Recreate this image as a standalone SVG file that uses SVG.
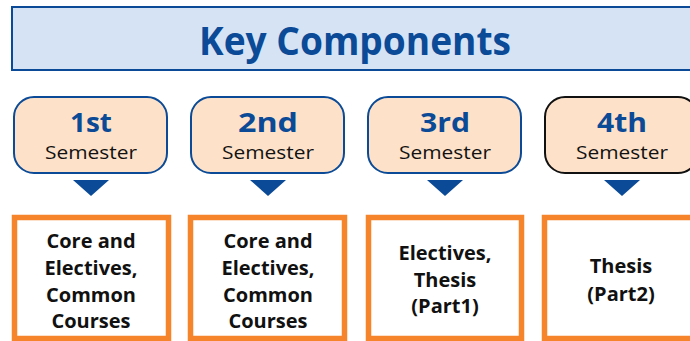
<svg xmlns="http://www.w3.org/2000/svg" width="690" height="341" viewBox="0 0 690 341">
<style>
.title{font-family:"Open Sans","Liberation Sans",sans-serif;font-weight:bold;font-size:40px;fill:#0b4a96}
.sem{fill:#fde2c9;stroke:#0b4a96;stroke-width:2}
.num{font-family:"Open Sans","Liberation Sans",sans-serif;font-weight:bold;font-size:27px;fill:#0b4a96;text-anchor:middle}
.lbl{font-family:"Open Sans","Liberation Sans",sans-serif;font-size:19px;fill:#111;text-anchor:middle}
.box{fill:#fff;stroke:#f5842a;stroke-width:5.5}
.txt{font-family:"Open Sans","Liberation Sans",sans-serif;font-weight:bold;font-size:20px;fill:#111;text-anchor:middle}
.arr{fill:#0b4a96}
</style>
<rect width="690" height="341" fill="#fff"/>
<g id="title">
<rect x="12" y="7" width="690" height="63" fill="#d5e3f5" stroke="#0b4a96" stroke-width="2"/>
<text class="title" x="355" y="55" text-anchor="middle" textLength="312" lengthAdjust="spacingAndGlyphs">Key Components</text>
</g>
<g id="sem1">
<rect class="sem" x="14" y="97" width="153" height="76" rx="20"/>
<text class="num" x="91" y="132" textLength="42" lengthAdjust="spacingAndGlyphs">1st</text>
<text class="lbl" x="91" y="159" textLength="92" lengthAdjust="spacingAndGlyphs">Semester</text>
</g>
<g id="sem2">
<rect class="sem" x="191" y="97" width="153" height="76" rx="20"/>
<text class="num" x="268" y="132" textLength="60" lengthAdjust="spacingAndGlyphs">2nd</text>
<text class="lbl" x="268" y="159" textLength="92" lengthAdjust="spacingAndGlyphs">Semester</text>
</g>
<g id="sem3">
<rect class="sem" x="368" y="97" width="153" height="76" rx="20"/>
<text class="num" x="445" y="132" textLength="50" lengthAdjust="spacingAndGlyphs">3rd</text>
<text class="lbl" x="445" y="159" textLength="92" lengthAdjust="spacingAndGlyphs">Semester</text>
</g>
<g id="sem4">
<rect class="sem" x="545" y="97" width="153" height="76" rx="20" style="stroke:#111"/>
<text class="num" x="622" y="132" textLength="50" lengthAdjust="spacingAndGlyphs">4th</text>
<text class="lbl" x="622" y="159" textLength="92" lengthAdjust="spacingAndGlyphs">Semester</text>
</g>
<g id="connectors">
<polygon class="arr" points="73,180 109,180 91,196"/>
<polygon class="arr" points="250,180 286,180 268,196"/>
<polygon class="arr" points="427,180 463,180 445,196"/>
<polygon class="arr" points="604,180 640,180 622,196"/>
</g>
<g id="comp1">
<rect class="box" x="14.5" y="217.5" width="154" height="121"/>
<text class="txt" x="91" y="248">Core and</text>
<text class="txt" x="91" y="275">Electives,</text>
<text class="txt" x="91" y="302">Common</text>
<text class="txt" x="91" y="328">Courses</text>
</g>
<g id="comp2">
<rect class="box" x="190.5" y="217.5" width="154" height="121"/>
<text class="txt" x="268" y="248">Core and</text>
<text class="txt" x="268" y="275">Electives,</text>
<text class="txt" x="268" y="302">Common</text>
<text class="txt" x="268" y="328">Courses</text>
</g>
<g id="comp3">
<rect class="box" x="368.5" y="217.5" width="153" height="121"/>
<text class="txt" x="445" y="260">Electives,</text>
<text class="txt" x="445" y="287">Thesis</text>
<text class="txt" x="445" y="313">(Part1)</text>
</g>
<g id="comp4">
<rect class="box" x="544.5" y="217.5" width="154" height="121"/>
<text class="txt" x="621" y="273">Thesis</text>
<text class="txt" x="621" y="301">(Part2)</text>
</g>
</svg>
